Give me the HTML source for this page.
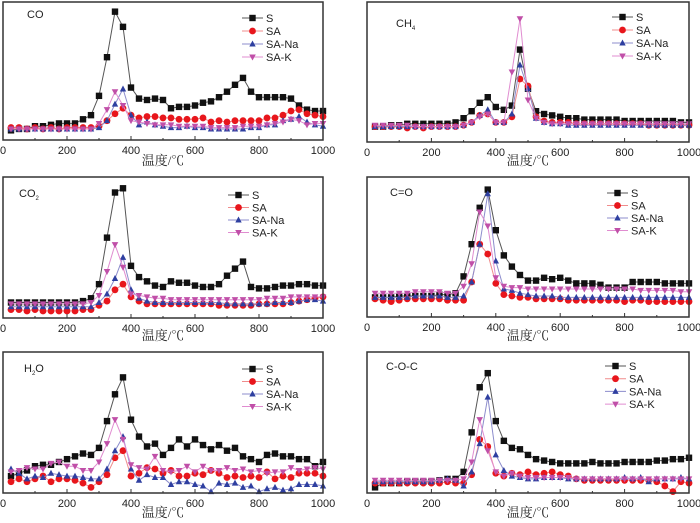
<!DOCTYPE html>
<html><head><meta charset="utf-8"><style>
body{margin:0;background:#fff;}
svg{display:block;font-family:"Liberation Sans",sans-serif;}
.tt{font-family:"Liberation Serif","Noto Serif CJK SC",serif;font-size:13px;}
</style></head><body>
<svg id="chart" width="700" height="523" viewBox="0 0 700 523"></svg>
<script>
const temps=[25,50,75,100,125,150,175,200,225,250,275,300,325,350,375,400,425,450,475,500,525,550,575,600,625,650,675,700,725,750,775,800,825,850,875,900,925,950,975,1000];
const xTicks=[0,200,400,600,800,1000];
const seriesNames=["S","SA","SA-Na","SA-K"];
// CO
const coS=[7,8,8,10,10,11,12,12,12,15,18,32,60,93,82,38,30,29,30,29,23,24,24,25,27,28,31,35,40,45,35,31,31,31,31,30,25,22,21,21];
const coSA=[9,9,8,9,8,9,8,9,9,9,9,10,14,19,23,18,16,17,17,16,16,15,15,15,16,13,14,13,14,14,14,14,16,16,18,21,22,19,18,17];
const coNa=[8,8,8,8,8,8,8,8,8,8,8,9,14,26,37,18,11,13,11,10,9,9,10,9,9,8,8,8,8,8,9,9,11,11,14,15,17,13,11,10];
const coK=[8,8,8,8,8,8,8,8,8,8,8,12,22,35,25,14,13,12,11,11,11,10,10,10,10,9,9,9,9,10,10,10,11,12,13,15,14,11,12,12];
// CH4
const chS=[11,11,12,12,13,13,13,13,13,13,14,17,22,28,32,25,23,26,66,38,22,20,19,18,17,17,16,16,16,16,16,15,15,15,15,15,15,15,14,14];
const chSA=[11,11,11,11,10,11,10,11,11,11,11,12,14,19,20,14,14,18,45,40,18,15,14,14,14,13,13,13,13,13,13,13,13,13,12,12,12,12,12,12];
const chNa=[11,11,11,11,11,11,11,11,11,11,11,12,14,19,23,14,14,20,55,38,17,14,13,13,12,12,12,12,12,12,12,12,12,12,12,12,12,12,12,12];
const chK=[12,12,12,12,12,11,11,11,11,11,11,12,14,18,20,14,14,50,88,30,17,14,13,13,13,13,13,13,13,13,13,13,13,13,13,13,13,13,13,13];
// CO2
const c2S=[11,11,11,11,11,11,11,11,11,12,14,24,57,89,92,37,29,26,23,22,26,25,25,23,22,22,24,30,35,40,22,21,21,22,23,23,24,24,23,23];
const c2SA=[6,6,5,6,5,5,5,5,5,6,6,9,12,20,24,15,12,10,10,10,10,10,10,10,10,10,9,9,9,9,9,10,10,10,10,11,12,13,14,15];
const c2Na=[8,8,8,8,8,8,8,8,8,8,8,11,17,28,43,20,14,12,11,11,11,11,11,11,11,11,11,10,10,10,10,10,10,11,11,11,12,13,13,12];
const c2K=[10,10,10,10,10,10,10,10,10,10,11,16,33,52,36,17,16,15,14,14,13,13,13,13,13,13,13,13,13,13,13,13,14,14,14,15,15,15,15,15];
// C=O
const cdS=[14,14,14,15,15,15,15,15,16,16,17,29,52,78,91,62,44,36,30,26,26,28,27,28,26,24,24,24,23,21,21,21,25,25,25,25,24,24,24,24];
const cdSA=[13,12,11,12,13,13,13,13,13,12,12,12,25,52,45,24,16,15,14,14,13,13,13,13,12,12,12,12,12,12,12,11,12,12,11,11,11,11,11,11];
const cdNa=[14,14,14,14,14,15,15,15,15,14,14,15,25,52,88,40,20,19,17,16,15,15,15,14,14,14,14,14,14,14,14,14,14,14,14,14,14,14,14,14];
const cdK=[17,17,17,17,17,18,18,18,18,17,17,22,38,75,65,28,22,21,21,20,20,20,20,20,20,20,20,20,20,20,20,20,20,19,19,19,19,19,18,18];
// H2O
const hS=[12,14,16,19,20,20,22,24,26,28,27,32,51,70,82,52,40,33,35,27,32,38,33,38,34,31,34,30,32,26,24,22,27,28,26,26,24,24,19,22];
const hSA=[8,10,8,10,12,8,10,10,9,7,4,8,13,25,30,12,14,18,17,14,16,12,12,14,13,16,14,11,12,11,12,11,15,10,12,11,14,14,14,12];
const hNa=[17,14,10,12,11,14,13,12,12,11,10,10,17,30,40,17,9,13,11,11,6,8,8,6,5,1,7,6,7,4,5,1,3,4,2,3,6,6,6,5];
const hK=[15,16,18,17,17,21,22,19,19,16,16,22,35,52,38,20,18,17,26,16,15,16,19,15,19,16,16,18,16,17,15,16,14,15,15,18,16,17,18,17];
// C-O-C
const cocS=[4,7,7,7,8,8,8,8,9,10,10,15,43,75,85,51,37,32,31,27,24,23,22,21,21,21,21,22,21,21,21,22,22,22,22,23,23,24,24,25];
const cocSA=[7,7,7,7,7,7,7,7,7,8,7,7,13,38,33,14,12,14,13,15,13,14,15,13,12,10,9,9,9,9,9,9,9,9,9,8,5,1,8,7];
const cocNa=[8,8,8,8,8,8,8,8,9,10,9,5,15,35,68,27,16,12,11,10,10,11,11,11,10,10,10,10,10,10,10,11,10,11,8,10,10,10,11,10];
const cocK=[9,9,9,9,9,9,9,9,9,9,9,10,22,52,30,15,12,14,12,11,11,11,11,11,11,10,10,10,10,10,10,10,10,10,10,10,10,10,10,10];

const panels=[
 {name:"co",x0:3,x1:323,y0:2,y1:140,label:"CO",lx:27,ly:18,leg:[242,16,13],data:[coS,coSA,coNa,coK],title:165},
 {name:"ch4",x0:367,x1:689,y0:2,y1:142,label:"CH",sub:"4",lx:396,ly:27,leg:[612,15,13],data:[chS,chSA,chNa,chK],title:165},
 {name:"co2",x0:3,x1:323,y0:177,y1:318,label:"CO",sub:"2",lx:19,ly:197,leg:[228,18,12.5],data:[c2S,c2SA,c2Na,c2K],title:340},
 {name:"c-o",x0:367,x1:689,y0:177,y1:317,label:"C=O",lx:390,ly:196,leg:[607,16,12.5],data:[cdS,cdSA,cdNa,cdK],title:340},
 {name:"h2o",x0:3,x1:323,y0:352,y1:493,label:"H",sub:"2",after:"O",lx:24,ly:372,leg:[242,17,12.5],data:[hS,hSA,hNa,hK],title:517},
 {name:"c-o-c",x0:367,x1:689,y0:352,y1:493,label:"C-O-C",lx:386,ly:370,leg:[605,14,12.7],data:[cocS,cocSA,cocNa,cocK],title:517}
];
const styles=[
 {line:"#555",fill:"#111",m:"sq"},
 {line:"#f08c8c",fill:"#e8161c",m:"ci"},
 {line:"#8c8ccc",fill:"#2e3fa0",m:"tu"},
 {line:"#e08cd0",fill:"#c04fa8",m:"td"}];
const NS="http://www.w3.org/2000/svg";
const svg=document.getElementById("chart");
function mk(tag,attrs,parent){const e=document.createElementNS(NS,tag);for(const k in attrs)e.setAttribute(k,attrs[k]);(parent||svg).appendChild(e);return e;}
function marker(g,kind,x,y,fill){
 let e;
 if(kind==="sq")e=mk("rect",{x:x-3.2,y:y-3.2,width:6.4,height:6.4,fill:fill},g);
 else if(kind==="ci")e=mk("circle",{cx:x,cy:y,r:3.4,fill:fill},g);
 else if(kind==="tu")e=mk("polygon",{points:`${x},${y-3.5} ${x+3.2},${y+2.5} ${x-3.2},${y+2.5}`,fill:fill},g);
 else e=mk("polygon",{points:`${x-3.3},${y-2.5} ${x+3.3},${y-2.5} ${x},${y+3.5}`,fill:fill},g);
 return e;
}
panels.forEach(p=>{
 const g=mk("g",{});
 
 
 const xs=t=>p.x0+(t/1000)*(p.x1-p.x0);
 const ys=v=>p.y1-(v/100)*(p.y1-p.y0);
 p.data.forEach((vals,si)=>{
  const st=styles[si];
  const sg=mk("g",{},g);
  
  
  const pts=vals.map((v,i)=>xs(temps[i]).toFixed(1)+","+ys(v).toFixed(1)).join(" ");
  mk("polyline",{points:pts,fill:"none",stroke:st.line,"stroke-width":1},sg);
  vals.forEach((v,i)=>{const m=marker(sg,st.m,xs(temps[i]),ys(v),st.fill);
   
   });
 });
 const box=mk("rect",{x:p.x0,y:p.y0,width:p.x1-p.x0,height:p.y1-p.y0,fill:"none",stroke:"#333","stroke-width":1.5},g);
 
 
 for(let t=0;t<=1000;t+=100){mk("line",{x1:xs(t),x2:xs(t),y1:p.y1,y2:p.y1-(t%200?2:4),stroke:"#333"},g);}
 xTicks.forEach(t=>{const tx=mk("text",{x:xs(t),y:p.y1+14,"text-anchor":"middle","font-size":11,fill:"#222"},g);tx.textContent=t;
  
  });
 const at=mk("text",{x:(p.x0+p.x1)/2,y:p.title,"text-anchor":"middle",class:"tt",fill:"#222"},g);
 at.textContent="温度/℃";
 
 
 const lb=mk("text",{x:p.lx,y:p.ly,"font-size":11,fill:"#222"},g);
 
 
 lb.appendChild(document.createTextNode(p.label));
 if(p.sub){const s=mk("tspan",{"font-size":6,dy:3},lb);s.textContent=p.sub;}
 if(p.after){const s=mk("tspan",{dy:-3},lb);s.textContent=p.after;}
 const [lx,ly,dy]=p.leg;
 seriesNames.forEach((n,si)=>{
  const st=styles[si];const y=p.y0+ly+si*dy;
  const le=mk("g",{},g);
  
  
  mk("line",{x1:lx,x2:lx+21,y1:y,y2:y,stroke:st.line},le);
  marker(le,st.m,lx+10.5,y,st.fill);
  const tx=mk("text",{x:lx+24,y:y+4,"font-size":11,fill:"#222"},le);tx.textContent=n;
 });
});
</script>
</body></html>
